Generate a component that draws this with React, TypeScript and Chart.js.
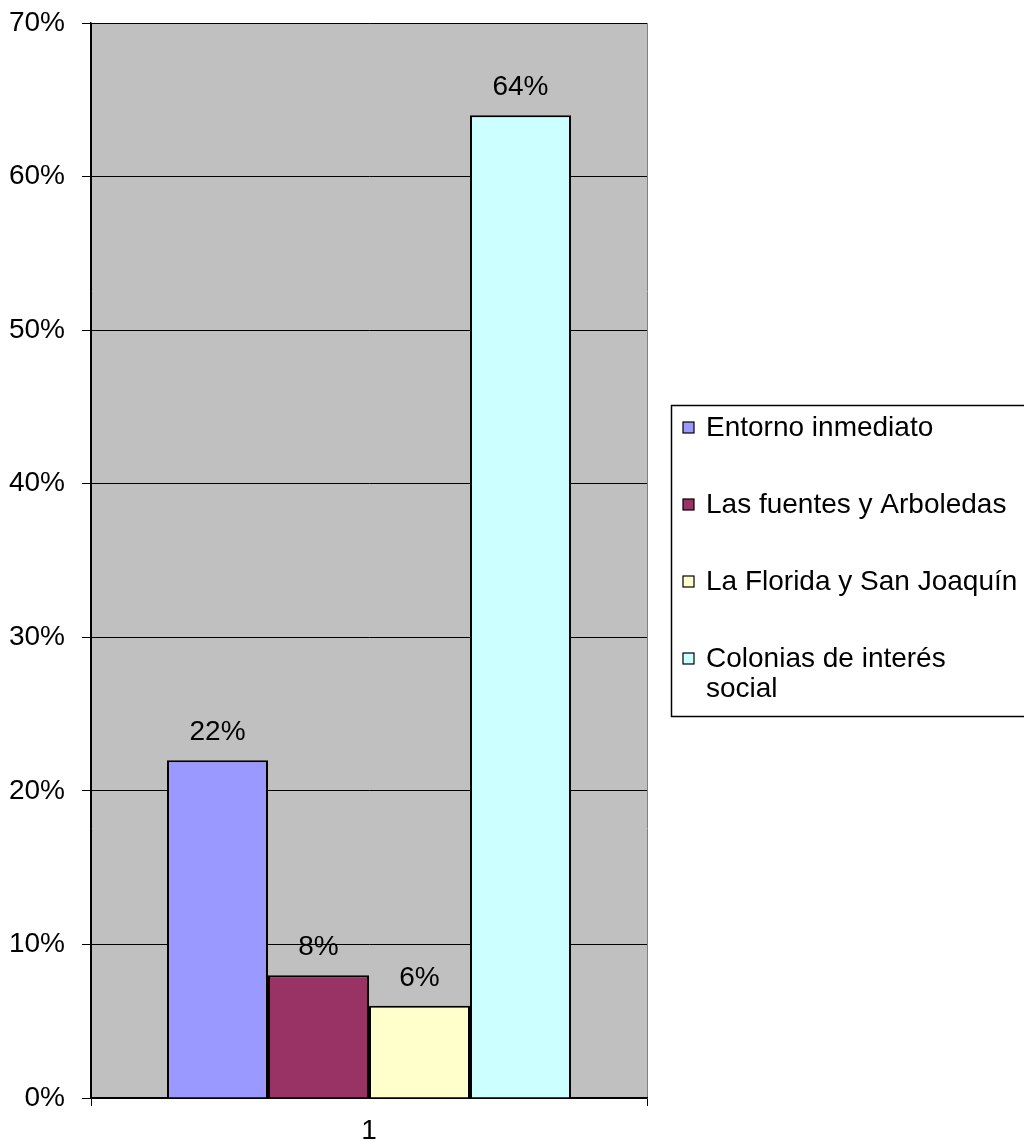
import React, { useEffect, useRef } from 'react';
import { Chart, registerables } from 'chart.js';

Chart.register(...registerables);

const categories = ['1'];
const seriesLabels = [
  'Entorno inmediato',
  'Las fuentes y Arboledas',
  'La Florida y San Joaquín',
  'Colonias de interés\nsocial',
];
const seriesValues = [22, 8, 6, 64];
const seriesColors = ['#9999FF', '#993366', '#FFFFCC', '#CCFFFF'];
const yMin = 0;
const yMax = 70;
const yStep = 10;

const FONT = "'Liberation Sans', Arial, sans-serif";

const bgPlugin = {
  id: 'plotBg',
  beforeDraw(chart: any) {
    const { ctx, chartArea } = chart;
    ctx.save();
    ctx.fillStyle = '#FFFFFF';
    ctx.fillRect(0, 0, chart.width, chart.height);
    ctx.fillStyle = '#C0C0C0';
    ctx.fillRect(chartArea.left, chartArea.top, chartArea.right - chartArea.left, chartArea.bottom - chartArea.top);
    ctx.restore();
  },
};

const labelPlugin = {
  id: 'valueLabels',
  afterDatasetsDraw(chart: any) {
    const { ctx } = chart;
    ctx.save();
    ctx.font = `28px ${FONT}`;
    ctx.fillStyle = '#000';
    ctx.textAlign = 'center';
    ctx.textBaseline = 'alphabetic';
    chart.data.datasets.forEach((ds: any, i: number) => {
      const meta = chart.getDatasetMeta(i);
      meta.data.forEach((el: any, j: number) => {
        ctx.fillText(`${ds.data[j]}%`, el.x, el.y - 20);
      });
    });
    ctx.restore();
  },
};

const legendPlugin = {
  id: 'boxLegend',
  afterDraw(chart: any) {
    const { ctx } = chart;
    ctx.save();
    ctx.strokeStyle = '#000';
    ctx.lineWidth = 1.5;
    ctx.fillStyle = '#FFFFFF';
    ctx.fillRect(671, 405, 400, 311);
    ctx.strokeRect(671.5, 405.5, 400, 311);
    ctx.font = `28px ${FONT}`;
    ctx.textAlign = 'left';
    ctx.textBaseline = 'middle';
    chart.data.datasets.forEach((ds: any, i: number) => {
      const rowY = 428 + i * 77;
      ctx.fillStyle = ds.backgroundColor;
      ctx.fillRect(683, rowY - 6, 11, 11);
      ctx.lineWidth = 1.2;
      ctx.strokeStyle = '#000';
      ctx.strokeRect(683, rowY - 6, 11, 11);
      ctx.fillStyle = '#000';
      String(ds.label).split('\n').forEach((line: string, k: number) => {
        ctx.fillText(line, 706, rowY + k * 30);
      });
    });
    ctx.restore();
  },
};

export default function App() {
  const ref = useRef<HTMLCanvasElement | null>(null);
  useEffect(() => {
    if (!ref.current) return;
    const chart = new Chart(ref.current, {
      type: 'bar',
      data: {
        labels: categories,
        datasets: seriesLabels.map((label, i) => ({
          label,
          data: [seriesValues[i]],
          backgroundColor: seriesColors[i],
          borderColor: '#000',
          borderWidth: 2,
          categoryPercentage: 0.7266,
          barPercentage: 1,
        })),
      },
      options: {
        responsive: false,
        animation: false,
        layout: { padding: { left: 0, top: 23, right: 377, bottom: 0 } },
        plugins: {
          legend: { display: false },
          tooltip: { enabled: false },
        },
        scales: {
          x: {
            afterFit: (s: any) => { s.height = 50; s.paddingLeft = 0; s.paddingRight = 0; },
            grid: {
              offset: true,
              color: (c: any) => (c.index === 0 ? '#000' : '#808080'),
              tickColor: '#000',
              tickLength: 8,
              lineWidth: 1,
            },
            border: { display: true, color: '#000', width: 1.5 },
            ticks: { color: '#000', font: { family: FONT, size: 28 }, padding: 8 },
          },
          y: {
            min: yMin,
            max: yMax,
            afterFit: (s: any) => { s.width = 91; s.paddingTop = 0; s.paddingBottom = 0; },
            grid: { color: '#000', tickColor: '#000', tickLength: 9, lineWidth: 1 },
            border: { display: true, color: '#000', width: 1.5 },
            ticks: {
              stepSize: yStep,
              color: '#000',
              font: { family: FONT, size: 28 },
              padding: 17,
              callback: (v: any) => `${v}%`,
            },
          },
        },
      },
      plugins: [bgPlugin, labelPlugin, legendPlugin],
    });
    return () => chart.destroy();
  }, []);
  return (
    <div style={{ position: 'absolute', left: 0, top: 0, width: 1024, height: 1148 }}>
      <canvas ref={ref} width={1024} height={1148} style={{ width: 1024, height: 1148 }} />
    </div>
  );
}
